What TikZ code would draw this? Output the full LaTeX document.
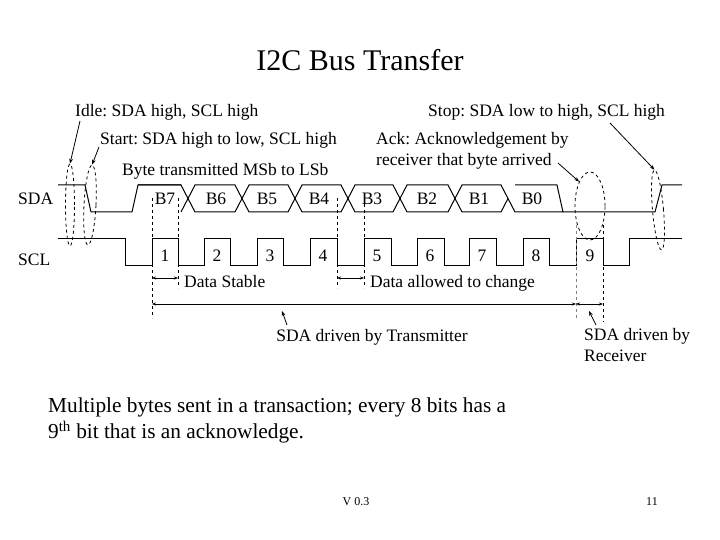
\documentclass[tikz,border=0pt]{standalone}
\usepackage{fontspec}
\setmainfont{Liberation Serif}
\usetikzlibrary{arrows.meta,shapes.geometric}
\begin{document}
\frenchspacing
\begin{tikzpicture}[x=1pt,y=-1pt,
  sig/.style={line width=1pt},
  dsh/.style={dashed,line width=0.8pt},
  lbl/.style={font=\fontsize{17.5}{21}\selectfont,inner sep=0pt},
  arr/.style={-{Stealth[length=5pt]},line width=0.8pt},
  darr/.style={{Stealth[length=4pt]}-{Stealth[length=4pt]},line width=0.6pt}]
\useasboundingbox (0,0) rectangle (720,540);
\node[font=\fontsize{30}{32}\selectfont] (title) at (360,60) {I2C Bus Transfer};
% SDA
\node[lbl,anchor=base west] (sda) at (18,205) {SDA};
\node[lbl,anchor=base west] (scl) at (18,265) {SCL};
\draw[sig] (58,185) -- (85,185) -- (91,212) -- (132,212) -- (138,185) -- (181,185);
\foreach \a/\b in {188/242,242/295,295/348,348/400,400/455,455/508}{
  \draw[sig] (\a+7,185) -- (\b-7,185) -- (\b,198.5) -- (\b-7,212) -- (\a+7,212) -- (\a,198.5) -- cycle;}
\draw[sig] (138,185) -- (181,185) -- (188,198.5) -- (181,212);
\draw[sig] (515,185) -- (557,185) -- (563,212) -- (655,212) -- (662,185) -- (682,185);
\draw[sig] (508,198.5) -- (515,212) -- (563,212);
\foreach \t/\x in {B7/165,B6/216,B5/267,B4/319,B3/372,B2/427,B1/479,B0/532}
  \node[lbl,anchor=base] (n\t) at (\x,205) {\t};
% SCL
\draw[sig] (58,238) -- (125,238) -- (125,265) -- (152,265)
  \foreach \r/\f in {152/178,204/230,257/283,310/337,364/391,417/444,469/496,523/549,576/603}{ -- (\r,265) -- (\r,238) -- (\f,238) -- (\f,265)} -- (629,265) -- (629,238) -- (682,238);
\foreach \n/\x in {1/165,2/217,3/270,4/323,5/377,6/430,7/482,8/536,9/590}
  \node[lbl,anchor=base] (c\n) at (\x,261) {\n};
% dashed verticals
\draw[dsh] (152,198) -- (152,318);
\draw[dsh] (178,198) -- (178,288);
\draw[dsh] (337,198) -- (337,288);
\draw[dsh] (364,198) -- (364,288);
\draw[dsh,gray] (576,225) -- (576,320);
\draw[dsh] (603,225) -- (603,322);
% arrows
\coordinate (d1) at (152,278); \coordinate (d2) at (178,278);
\coordinate (d3) at (337,278); \coordinate (d4) at (364,278);
\draw[darr] (d1) -- (d2); \draw[darr] (d3) -- (d4);
\node[lbl,anchor=base west] (ds) at (184,287) {Data Stable};
\node[lbl,anchor=base west] (dc) at (370,287) {Data allowed to change};
\coordinate (t1) at (152,304); \coordinate (t2) at (576,304); \coordinate (t3) at (603,304);
\draw[darr] (t1) -- (t2); \draw[darr] (t2) -- (t3);
\node[lbl,anchor=base] (tx) at (372,341) {SDA driven by Transmitter};
\node[lbl,anchor=north west,align=left] (rx) at (584,328) {SDA driven by\\Receiver};
\coordinate (tp) at (282,311); \coordinate (rp) at (589,311);
\draw[arr] (287,325) -- (tp);
\draw[arr] (596,325) -- (rp);
% ellipses
\node[draw,dashed,ellipse,line width=0.8pt,minimum width=9pt,minimum height=82pt,inner sep=0pt] (eidle) at (70,205) {};
\node[draw,dashed,ellipse,line width=0.8pt,minimum width=12pt,minimum height=80pt,inner sep=0pt,rotate=-3] (estart) at (90,205) {};
\node[draw,dashed,ellipse,line width=0.8pt,minimum width=30pt,minimum height=68pt,inner sep=0pt] (eack) at (590,206) {};
\node[draw,dashed,ellipse,line width=0.8pt,minimum width=11pt,minimum height=80pt,inner sep=0pt,rotate=5] (estop) at (658,210) {};
% labels
\node[lbl,anchor=base west] (idle) at (75,117) {Idle: SDA high, SCL high};
\node[lbl,anchor=base west] (start) at (100,145) {Start: SDA high to low, SCL high};
\node[lbl,anchor=base west] (byte) at (122,176) {Byte transmitted MSb to LSb};
\node[lbl,anchor=base west] (stop) at (428,117) {Stop: SDA low to high, SCL high};
\node[lbl,anchor=north west,align=left] (ack) at (376,132) {Ack: Acknowledgement by\\receiver that byte arrived};
\draw[arr] (80,121) -- (eidle.north);
\draw[arr] (99,147) -- (estart.north);
\draw[arr] (558,163) -- (eack.north west);
\draw[arr] (610,123) -- (estop.north);
% bottom text
\node[anchor=north west,align=left,font=\fontsize{21.3}{26}\selectfont,inner sep=0pt] (body) at (48,398)
 {Multiple bytes sent in a transaction; every 8 bits has a\\9\textsuperscript{th} bit that is an acknowledge.};
\node[font=\fontsize{12}{14}\selectfont] (ver) at (356,502) {V 0.3};
\node[font=\fontsize{12}{14}\selectfont] (pg) at (652,502) {11};
\end{tikzpicture}
\end{document}
